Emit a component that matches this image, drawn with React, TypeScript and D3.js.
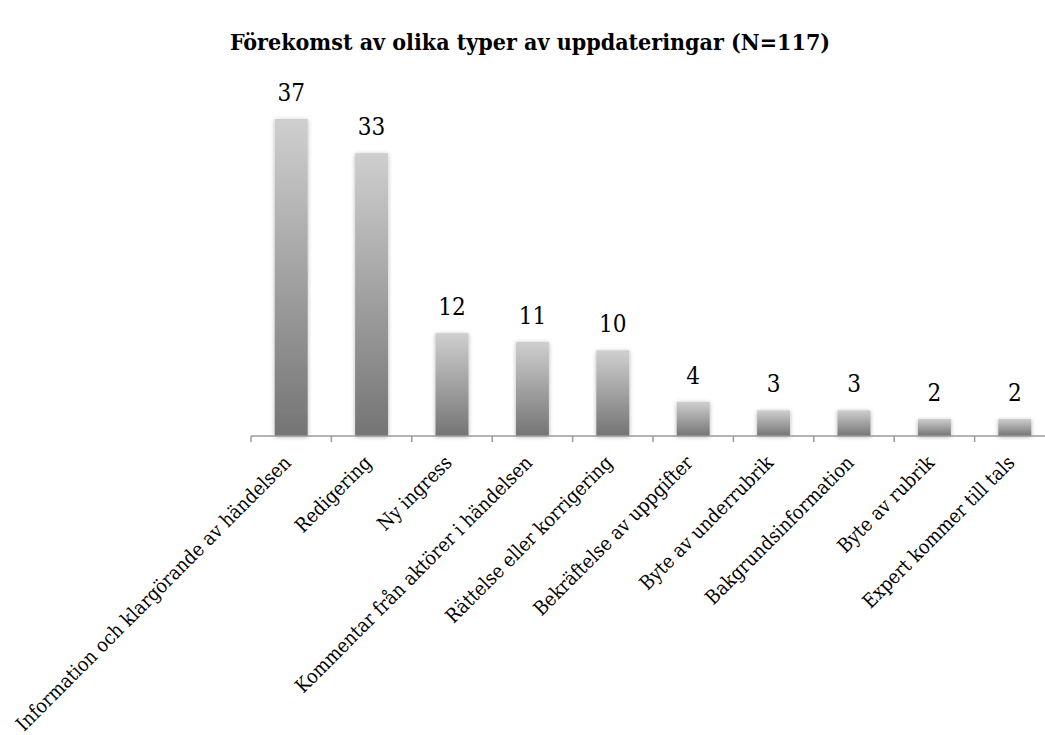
import React from "react";
import * as d3 from "d3";

const categories = [
  "Information och klargörande av händelsen",
  "Redigering",
  "Ny ingress",
  "Kommentar från aktörer i händelsen",
  "Rättelse eller korrigering",
  "Bekräftelse av uppgifter",
  "Byte av underrubrik",
  "Bakgrundsinformation",
  "Byte av rubrik",
  "Expert kommer till tals",
];
const values = [37, 33, 12, 11, 10, 4, 3, 3, 2, 2];
const title = "Förekomst av olika typer av uppdateringar (N=117)";

const W = 1045;
const H = 735;
const FONT = "'DejaVu Serif Condensed', 'DejaVu Serif', 'Liberation Serif', serif";

export default function App() {
  const x = d3
    .scaleBand<string>()
    .domain(categories)
    .range([251, 1055])
    .paddingInner(0.59)
    .paddingOuter(0.295);
  const y = d3.scaleLinear().domain([0, 40]).range([436, 436 - 40 * 8.57]);
  const step = x.step();
  const ticks = d3.range(categories.length + 1).map((i) => 251 + i * step);

  return (
    <svg
      width={W}
      height={H}
      style={{ position: "absolute", left: 0, top: 0, background: "#fff" }}
    >
      <defs>
        <linearGradient id="barGrad" x1="0" y1="0" x2="0" y2="1">
          <stop offset="0%" stopColor="#cfcfcf" />
          <stop offset="100%" stopColor="#747474" />
        </linearGradient>
        <filter id="shadow" x="-30%" y="-10%" width="160%" height="130%">
          <feDropShadow dx="0" dy="1" stdDeviation="2" floodColor="#000" floodOpacity="0.3" />
        </filter>
      </defs>
      <text
        x={530}
        y={50}
        textAnchor="middle"
        fontFamily={FONT}
        fontWeight="bold"
        fontSize={23}
        fill="#000"
      >
        {title}
      </text>
      {categories.map((c, i) => (
        <rect
          key={c}
          x={x(c)}
          y={y(values[i])}
          width={x.bandwidth()}
          height={y(0) - y(values[i])}
          fill="url(#barGrad)"
          filter="url(#shadow)"
        />
      ))}
      <line x1={251} x2={1055} y1={y(0)} y2={y(0)} stroke="#9a9a9a" strokeWidth={1.5} />
      {ticks.map((t, i) => (
        <line key={i} x1={t} x2={t} y1={y(0)} y2={y(0) + 6} stroke="#9a9a9a" strokeWidth={1.5} />
      ))}
      {categories.map((c, i) => (
        <text
          key={"v" + c}
          x={(x(c) as number) + x.bandwidth() / 2}
          y={y(values[i]) - 18}
          textAnchor="middle"
          fontFamily={FONT}
          fontSize={24}
          fill="#000"
        >
          {values[i]}
        </text>
      ))}
      {categories.map((c) => {
        const cx = (x(c) as number) + x.bandwidth() / 2 + 1;
        const cy = y(0) + 28;
        return (
          <text
            key={"l" + c}
            transform={`translate(${cx},${cy}) rotate(-45)`}
            textAnchor="end"
            fontFamily={FONT}
            fontSize={19.5}
            fill="#000"
          >
            {c}
          </text>
        );
      })}
    </svg>
  );
}
